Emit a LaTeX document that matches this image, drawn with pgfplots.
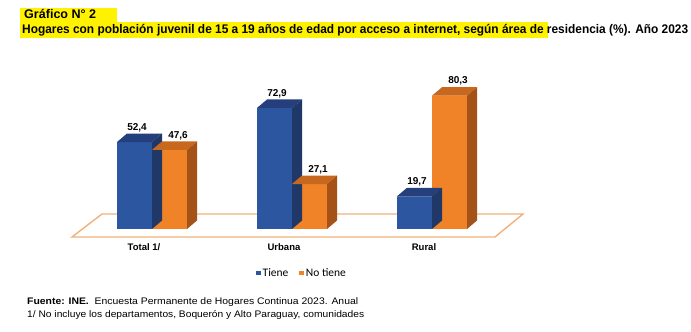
\documentclass[border=0pt]{standalone}
\usepackage{pgfplots}
\pgfplotsset{compat=1.18}
\usepackage{pgfplotstable}
\usepackage{fontspec}
\setmainfont{Liberation Sans}
\newfontfamily\carlito{Carlito}
\newfontfamily\narrow{Liberation Sans}[FakeStretch=0.82]
\definecolor{bluefront}{HTML}{2C57A0}
\definecolor{bluetop}{HTML}{243F7C}
\definecolor{blueside}{HTML}{1F3868}
\definecolor{orfront}{HTML}{F08228}
\definecolor{ortop}{HTML}{C8681E}
\definecolor{orside}{HTML}{A55219}
\definecolor{floorc}{HTML}{F0B27A}

\pgfplotstableread{
x t n
0 52.4 47.6
1 72.9 27.1
2 19.7 80.3
}\data

% 3D faces (top and side) of each bar, drawn from the bar's value
\pgfdeclareplotmark{tiene3d}{%
 \pgfmathsetmacro\hh{\val*1.66}%
 \pgfsetfillcolor{bluetop}%
 \pgfpathmoveto{\pgfpoint{-35pt}{0pt}}%
 \pgfpathlineto{\pgfpoint{0pt}{0pt}}%
 \pgfpathlineto{\pgfpoint{10pt}{8.5pt}}%
 \pgfpathlineto{\pgfpoint{-25pt}{8.5pt}}%
 \pgfpathclose\pgfusepath{fill}%
 \pgfsetfillcolor{blueside}%
 \pgfpathmoveto{\pgfpoint{0pt}{0pt}}%
 \pgfpathlineto{\pgfpoint{10pt}{8.5pt}}%
 \pgfpathlineto{\pgfpoint{10pt}{8.5pt-\hh pt}}%
 \pgfpathlineto{\pgfpoint{0pt}{-\hh pt}}%
 \pgfpathclose\pgfusepath{fill}%
}
\pgfdeclareplotmark{notiene3d}{%
 \pgfmathsetmacro\hh{\val*1.66}%
 \pgfsetfillcolor{ortop}%
 \pgfpathmoveto{\pgfpoint{0pt}{0pt}}%
 \pgfpathlineto{\pgfpoint{35pt}{0pt}}%
 \pgfpathlineto{\pgfpoint{45pt}{8.5pt}}%
 \pgfpathlineto{\pgfpoint{10pt}{8.5pt}}%
 \pgfpathclose\pgfusepath{fill}%
 \pgfsetfillcolor{orside}%
 \pgfpathmoveto{\pgfpoint{35pt}{0pt}}%
 \pgfpathlineto{\pgfpoint{45pt}{8.5pt}}%
 \pgfpathlineto{\pgfpoint{45pt}{8.5pt-\hh pt}}%
 \pgfpathlineto{\pgfpoint{35pt}{-\hh pt}}%
 \pgfpathclose\pgfusepath{fill}%
}

\begin{document}
\begin{tikzpicture}
\useasboundingbox (0,0) rectangle (691pt,332pt);
% title
\fill[yellow] (20pt,310pt) rectangle (117pt,324pt);
\fill[yellow] (20pt,294pt) rectangle (548pt,310pt);
\node[anchor=base west, inner sep=0pt] at (24pt,313pt) {\resizebox{72pt}{\height}{\narrow\bfseries\fontsize{12.5}{14}\selectfont Gráfico N° 2}};
\node[anchor=base west, inner sep=0pt] at (22pt,298pt) {\resizebox{666pt}{\height}{\narrow\bfseries\fontsize{12.5}{14}\selectfont Hogares con población juvenil de 15 a 19 años de edad por acceso a internet, según área de residencia (\%). Año 2023}};
% floor
\draw[floorc, line width=1.4pt, fill=white, line join=miter] (72pt,95pt) -- (495pt,95pt) -- (523pt,118pt) -- (102pt,118pt) -- cycle;

\begin{axis}[
  at={(82pt,103pt)}, anchor=south west,
  x=140pt, y=1.66pt,
  xmin=-0.5, xmax=2.5, ymin=0, ymax=100,
  clip=false,
  axis line style={draw=none},
  tick style={draw=none},
  ytick=\empty,
  xtick={0,1,2},
  xticklabels={Total 1/,Urbana,Rural},
  xticklabel style={font=\bfseries\fontsize{9.5}{11}\selectfont, xshift=-8pt, yshift=-11pt},
  legend style={at={(0.524,-0.265)}, anchor=center, draw=none, fill=none,
    font=\carlito\fontsize{11.5}{13}\selectfont, legend columns=2,
    /tikz/every even column/.append style={column sep=9pt}},
  legend image code/.code={\fill[#1,draw=none] (1pt,-2.2pt) rectangle (5.5pt,2.3pt);},
]
\addplot[only marks, mark=tiene3d, forget plot,
  visualization depends on={\thisrow{t} \as \val}] table[x=x,y=t]{\data};
\addplot[only marks, mark=notiene3d, forget plot,
  visualization depends on={\thisrow{n} \as \val}] table[x=x,y=n]{\data};
\addplot[ybar, bar width=35pt, bar shift=-17.5pt, fill=bluefront, draw=none,
  nodes near coords={\pgfmathprintnumber[assume math mode=true,fixed,fixed zerofill,precision=1,use comma]{\pgfplotspointmeta}},
  every node near coord/.append style={font=\bfseries\fontsize{10}{12}\selectfont, anchor=south, inner sep=0pt, yshift=10pt, xshift=-15pt, text=black}]
  table[x=x,y=t]{\data};
\addlegendentry{Tiene}
\addplot[ybar, bar width=35pt, bar shift=17.5pt, fill=orfront, draw=none,
  nodes near coords={\pgfmathprintnumber[assume math mode=true,fixed,fixed zerofill,precision=1,use comma]{\pgfplotspointmeta}},
  every node near coord/.append style={font=\bfseries\fontsize{10}{12}\selectfont, anchor=south, inner sep=0pt, yshift=10pt, xshift=26pt, text=black}]
  table[x=x,y=n]{\data};
\addlegendentry{No tiene}
\end{axis}
% footnotes
\node[anchor=base west, inner sep=0pt] at (27pt,27pt) {\resizebox{331pt}{\height}{\fontsize{9.5}{11}\selectfont\textbf{Fuente: INE.}\ \ Encuesta Permanente de Hogares Continua 2023. Anual}};
\node[anchor=base west, inner sep=0pt] at (27pt,14pt) {\resizebox{337pt}{\height}{\fontsize{9.5}{11}\selectfont 1/ No incluye los departamentos, Boquerón y Alto Paraguay, comunidades}};
\end{tikzpicture}
\end{document}
